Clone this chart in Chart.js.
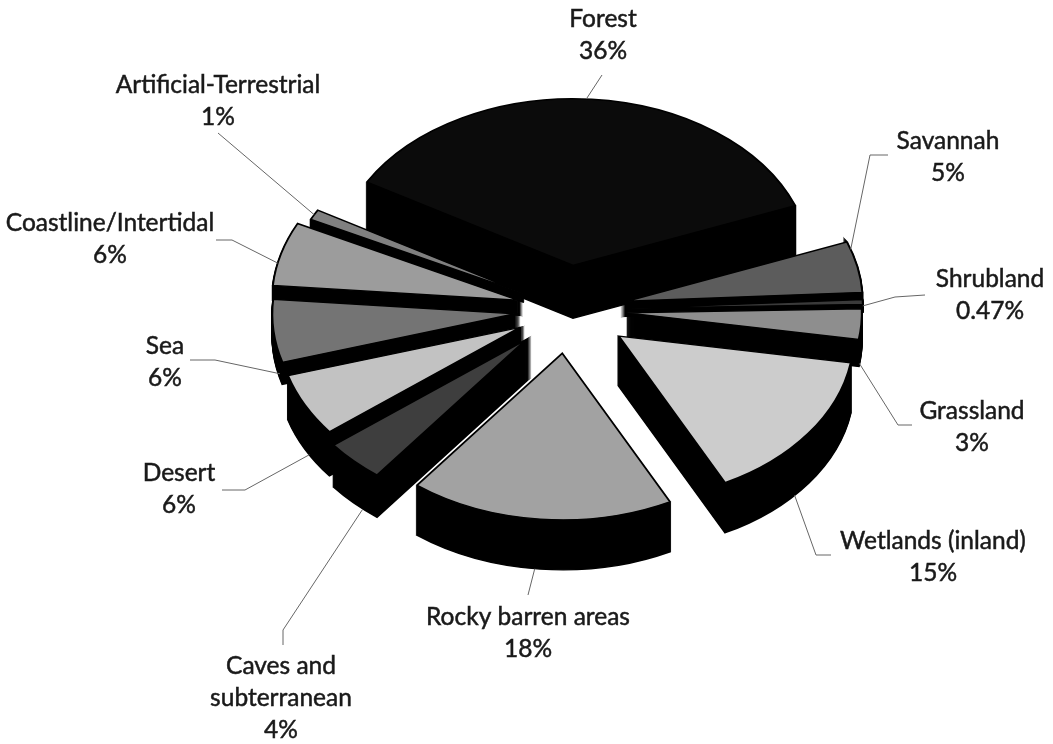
<!DOCTYPE html>
<html>
<head>
<meta charset="utf-8">
<title>Habitat pie</title>
<script src="https://cdn.jsdelivr.net/npm/chart.js@4"></script>
<style>
  html, body { margin: 0; padding: 0; background: #fff; }
  canvas { display: block; }
</style>
</head>
<body>
<canvas id="myChart" width="1053" height="744"></canvas>
<script>
const categories = ['Forest', 'Savannah', 'Shrubland', 'Grassland', 'Wetlands (inland)', 'Rocky barren areas',
  'Caves and subterranean', 'Desert', 'Sea', 'Coastline/Intertidal', 'Artificial-Terrestrial'];
const percentages = [36, 5, 0.47, 3, 15, 18, 4, 6, 6, 6, 1];

// look of the slices, same order as categories
const topColors = ['#0b0b0b', '#5c5c5c', '#3a3a3a', '#8e8e8e', '#cccccc', '#a2a2a2', '#3e3e3e', '#c2c2c2', '#747474', '#9c9c9c', '#808080'];
const wallHeights = [53, 15, 8, 27, 50, 50, 42, 44, 22, 15, 9];
const explode = [64, 60, 58, 59, 63, 62, 60, 54, 53, 52, 50];
const radii = [238, 236, 237, 235, 235, 238, 244, 242, 243, 246, 238];
const drawOrder = [0, 10, 1, 9, 2, 8, 3, 7, 4, 6, 5];

// label layout: text lines, centre x, baseline-ish y of each line
const labelLines = [['Forest'], ['Savannah'], ['Shrubland'], ['Grassland'], ['Wetlands (inland)'], ['Rocky barren areas'],
  ['Caves and', 'subterranean'], ['Desert'], ['Sea'], ['Coastline/Intertidal'], ['Artificial-Terrestrial']];
const labelX = [603, 948, 990, 972, 933, 528, 281, 179, 165, 110, 218];
const labelY = [19, 141, 279, 411, 541, 617, 666, 473, 346, 223, 85];
const lineGap = 32;

// leader lines: where on the slice they start (share along the arc, share down the wall) and the elbows
const leaderStart = [[0.49, 0], [0.15, 0], [0.5, 0.5], [0.9, 1], [0.6, 1], [0.52, 1], [0.3, 1], [0.4, 1], [0.1, 0.8], [0.35, 0], [0.5, 0]];
const leaderElbows = [[[602, 75]], [[870, 155], [888, 155]], [[895, 297], [925, 295]], [[898, 425], [912, 425]],
  [[816, 555], [831, 555]], [[528, 595]], [[283, 630], [283, 645]], [[245, 490], [222, 490]], [[215, 360], [190, 360]],
  [[232, 240], [216, 240]], [[218, 133]]];

const pieCenterX = 568;
const pieCenterY = 310;
const tilt = 0.7;

function sliceOptions(fill) {
  return {
    backgroundColor: fill, borderColor: '#000', borderWidth: 2, borderAlign: 'center', borderJoinStyle: 'miter',
    borderRadius: 0, borderDash: [], borderDashOffset: 0, spacing: 0, offset: 0, circular: true, selfJoin: false,
  };
}

function midAngle(arc) {
  return (arc.startAngle + arc.endAngle) / 2;
}

const tiltedPie = {
  id: 'tiltedPie',
  beforeDatasetsDraw(chart) {
    const ctx = chart.ctx;
    const arcs = chart.getDatasetMeta(0).data;

    drawOrder.forEach((i) => {
      const arc = arcs[i];
      const mid = midAngle(arc);
      const shift = explode[i];
      const piece = Object.create(arc);
      piece.outerRadius = radii[i];

      // stack of dark copies makes the wall, the coloured one goes on top
      for (let d = wallHeights[i]; d >= 0; d--) {
        piece.options = sliceOptions(d === 0 ? topColors[i] : '#050505');
        ctx.save();
        ctx.translate(pieCenterX + Math.cos(mid) * shift, pieCenterY + Math.sin(mid) * shift * tilt + d);
        ctx.scale(1, tilt);
        ctx.translate(-arc.x, -arc.y);
        piece.draw(ctx);
        ctx.restore();
      }
    });
    return false;
  },
  afterDraw(chart) {
    const ctx = chart.ctx;
    const arcs = chart.getDatasetMeta(0).data;
    ctx.save();

    arcs.forEach((arc, i) => {
      const angle = arc.startAngle + (arc.endAngle - arc.startAngle) * leaderStart[i][0];
      const mid = midAngle(arc);
      const shift = explode[i];
      const sx = pieCenterX + Math.cos(mid) * shift + Math.cos(angle) * radii[i];
      const sy = pieCenterY + (Math.sin(mid) * shift + Math.sin(angle) * radii[i]) * tilt + wallHeights[i] * leaderStart[i][1];
      ctx.beginPath();
      ctx.moveTo(sx, sy);
      leaderElbows[i].forEach((p) => ctx.lineTo(p[0], p[1]));
      ctx.strokeStyle = '#666';
      ctx.lineWidth = 1;
      ctx.stroke();
    });

    ctx.fillStyle = '#1a1a1a';
    ctx.strokeStyle = '#1a1a1a';
    ctx.lineWidth = 0.5;
    ctx.font = '24.5px "Lato"';
    ctx.textAlign = 'center';
    ctx.textBaseline = 'middle';
    categories.forEach((name, i) => {
      const lines = labelLines[i].concat(percentages[i] + '%');
      lines.forEach((text, n) => {
        ctx.fillText(text, labelX[i], labelY[i] + n * lineGap);
        ctx.strokeText(text, labelX[i], labelY[i] + n * lineGap);
      });
    });
    ctx.restore();
  },
};

const context = document.getElementById('myChart').getContext('2d');

const chart = new Chart(context, {
  type: 'pie',
  data: {
    labels: categories,
    datasets: [
      {
        backgroundColor: topColors,
        borderColor: '#000',
        data: percentages,
      },
    ],
  },
  options: {
    responsive: false,
    animation: false,
    rotation: -60,
    plugins: {
      legend: { display: false },
      tooltip: { enabled: false },
    },
  },
  plugins: [tiltedPie],
});
</script>
</body>
</html>
